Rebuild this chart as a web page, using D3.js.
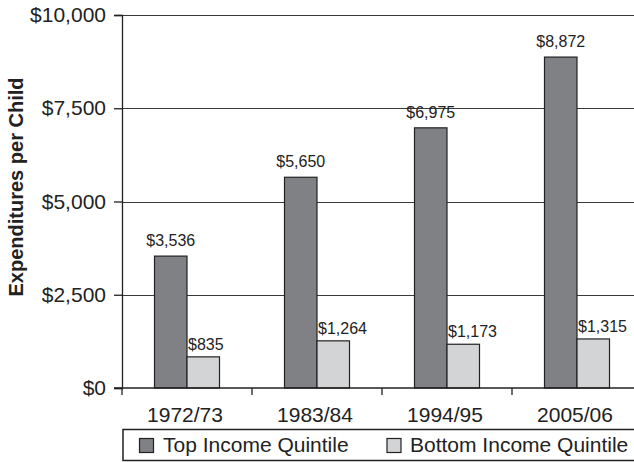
<!DOCTYPE html>
<html>
<head>
<meta charset="utf-8">
<script src="https://cdn.jsdelivr.net/npm/d3@7"></script>
<style>
  body { margin: 0; background: #fff; }
  svg { display: block; font-family: "Liberation Sans", Arial, sans-serif; }
</style>
</head>
<body>
<div id="chart"></div>
<script>
// data
const periods = ["1972/73", "1983/84", "1994/95", "2005/06"];
const seriesNames = ["Top Income Quintile", "Bottom Income Quintile"];
const topQuintile = [3536, 5650, 6975, 8872];
const bottomQuintile = [835, 1264, 1173, 1315];
const yTicks = [0, 2500, 5000, 7500, 10000];

const W = 634, H = 462;
const margin = { top: 15, left: 122, bottom: 74 };
const bandW = 130;
const plotBottom = H - margin.bottom;

const colors = ["#808184", "#d3d4d6"];
const ink = "#222";

const svg = d3.select("#chart").append("svg")
    .attr("width", W)
    .attr("height", H);

const x0 = d3.scaleBand()
    .domain(periods)
    .range([margin.left, margin.left + bandW * periods.length])
    .padding(0);

const x1 = d3.scaleBand()
    .domain(seriesNames)
    .range([bandW * 0.25, bandW * 0.75])
    .padding(0);

const y = d3.scaleLinear()
    .domain([0, 10000])
    .range([plotBottom, margin.top]);

const fmt = d => "$" + d3.format(",")(d);

// gridlines
svg.append("g")
    .selectAll("line")
    .data(yTicks.filter(d => d > 0))
    .join("line")
    .attr("x1", margin.left)
    .attr("x2", W)
    .attr("y1", d => Math.round(y(d)) + 0.5)
    .attr("y2", d => Math.round(y(d)) + 0.5)
    .attr("stroke", "#3a3a3a")
    .attr("stroke-width", 1);

// bars
const rows = periods.map((p, i) => ({ period: p, values: [topQuintile[i], bottomQuintile[i]] }));

const groups = svg.append("g")
    .selectAll("g")
    .data(rows)
    .join("g")
    .attr("transform", d => "translate(" + x0(d.period) + ",0)");

groups.selectAll("rect")
    .data(d => d.values.map((v, j) => ({ key: seriesNames[j], value: v, j: j })))
    .join("rect")
    .attr("x", d => x1(d.key))
    .attr("y", d => y(d.value))
    .attr("width", x1.bandwidth())
    .attr("height", d => plotBottom - y(d.value))
    .attr("fill", d => colors[d.j])
    .attr("stroke", ink)
    .attr("stroke-width", 1.2);

// value labels: top series centred, bottom series left aligned on the bar
groups.selectAll("text")
    .data(d => d.values.map((v, j) => ({ key: seriesNames[j], value: v, j: j })))
    .join("text")
    .attr("x", d => d.j === 0 ? x1(d.key) + x1.bandwidth() / 2 : x1(d.key) + 1)
    .attr("y", d => y(d.value) - (d.j === 0 ? 10 : 7))
    .attr("text-anchor", d => d.j === 0 ? "middle" : "start")
    .style("font-size", "16px")
    .style("fill", ink)
    .text(d => fmt(d.value));

// y axis
const yAxis = svg.append("g")
    .attr("transform", "translate(" + margin.left + ",0)")
    .call(d3.axisLeft(y).tickValues(yTicks).tickFormat(fmt).tickSize(8).tickPadding(8));
yAxis.select(".domain").attr("stroke", ink).attr("stroke-width", 1.3);
yAxis.selectAll(".tick line").attr("stroke", ink).attr("stroke-width", 1.3);
yAxis.selectAll(".tick text")
    .style("font-size", "21px")
    .style("font-family", "'Liberation Sans', Arial, sans-serif")
    .attr("fill", ink);

// x axis
const xAxisG = svg.append("g");
xAxisG.append("line")
    .attr("x1", margin.left - 8)
    .attr("x2", W)
    .attr("y1", plotBottom)
    .attr("y2", plotBottom)
    .attr("stroke", ink)
    .attr("stroke-width", 1.3);
xAxisG.selectAll("line.tick")
    .data(periods)
    .join("line")
    .attr("class", "tick")
    .attr("x1", d => x0(d))
    .attr("x2", d => x0(d))
    .attr("y1", plotBottom)
    .attr("y2", plotBottom + 7)
    .attr("stroke", ink)
    .attr("stroke-width", 1.3);
xAxisG.selectAll("text")
    .data(periods)
    .join("text")
    .attr("x", d => x0(d) + bandW / 2 - 2)
    .attr("y", plotBottom + 34)
    .attr("text-anchor", "middle")
    .style("font-size", "21px")
    .style("fill", ink)
    .text(d => d);

// y title
svg.append("text")
    .attr("transform", "translate(23,187) rotate(-90)")
    .attr("text-anchor", "middle")
    .style("font-size", "20px")
    .style("font-weight", "bold")
    .style("fill", ink)
    .text("Expenditures per Child");

// legend
const legend = svg.append("g");
legend.append("rect")
    .attr("x", 123)
    .attr("y", 429.5)
    .attr("width", W)
    .attr("height", 31)
    .attr("fill", "none")
    .attr("stroke", ink)
    .attr("stroke-width", 1.5);

const legendX = [139.5, 387];
const items = legend.selectAll("g.item")
    .data(seriesNames)
    .join("g")
    .attr("class", "item")
    .attr("transform", (d, i) => "translate(" + legendX[i] + ",438.5)");
items.append("rect")
    .attr("width", 14)
    .attr("height", 14)
    .attr("fill", (d, i) => colors[i])
    .attr("stroke", ink)
    .attr("stroke-width", 1.2);
items.append("text")
    .attr("x", (d, i) => i === 0 ? 23.5 : 23)
    .attr("y", 13.5)
    .style("font-size", "21px")
    .style("fill", ink)
    .text(d => d);
</script>
</body>
</html>
